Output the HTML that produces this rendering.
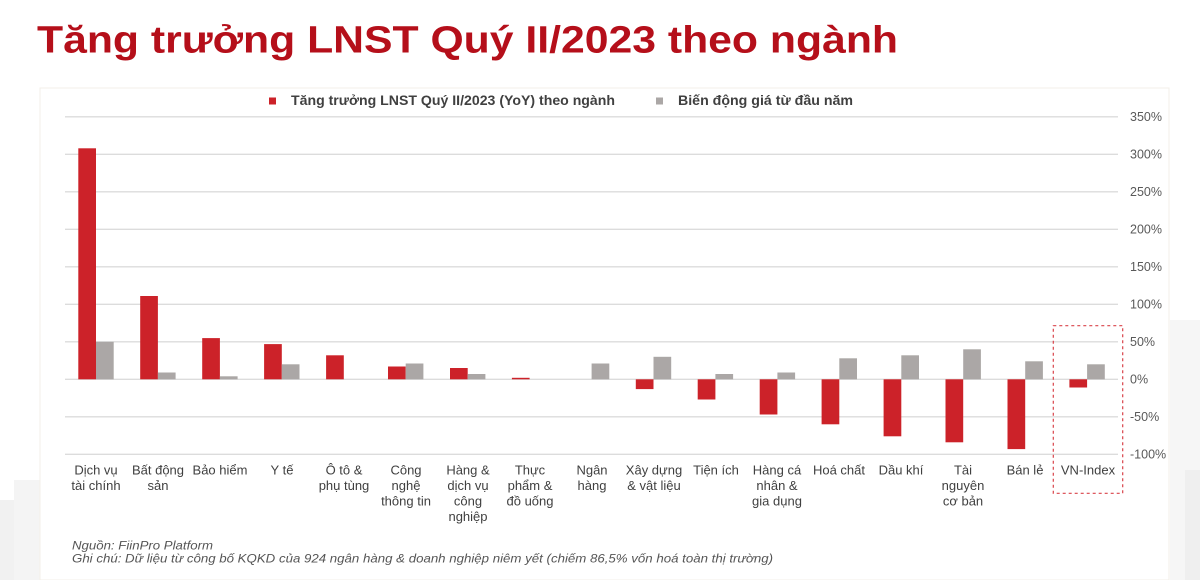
<!DOCTYPE html>
<html><head><meta charset="utf-8"><style>
html,body{margin:0;padding:0;background:#fff;}
svg{display:block;}
text{font-family:"Liberation Sans",sans-serif;}
</style></head><body>
<svg width="1200" height="580" viewBox="0 0 1200 580" xmlns="http://www.w3.org/2000/svg">
<rect x="0" y="0" width="1200" height="580" fill="#fff"/>
<!-- faint background city -->
<g fill="#f1f1f1">
<rect x="0" y="500" width="14" height="80"/>
<rect x="14" y="480" width="26" height="100" fill="#f4f4f4"/>
<rect x="1170" y="320" width="30" height="260" fill="#f6f6f6"/>
<rect x="1185" y="470" width="15" height="110" fill="#efefef"/>
</g>
<rect x="40" y="88" width="1129" height="492" fill="#fff" stroke="#f3efe8" stroke-width="1"/>
<!-- title -->
<text x="37" y="52.5" font-size="38" font-weight="bold" fill="#B50F1A" textLength="861" lengthAdjust="spacingAndGlyphs">Tăng trưởng LNST Quý II/2023 theo ngành</text>
<!-- legend -->
<rect x="269" y="97.5" width="7" height="7" fill="#CC2229"/>
<text x="291" y="105" font-size="13.5" font-weight="bold" fill="#404040" textLength="324" lengthAdjust="spacingAndGlyphs">Tăng trưởng LNST Quý II/2023 (YoY) theo ngành</text>
<rect x="656" y="97.5" width="7" height="7" fill="#ABA7A6"/>
<text x="678" y="105" font-size="13.5" font-weight="bold" fill="#404040" textLength="175" lengthAdjust="spacingAndGlyphs">Biến động giá từ đầu năm</text>
<!-- gridlines -->
<g stroke="#dcdcdc" stroke-width="1.3">
<line x1="65" x2="1118" y1="116.8" y2="116.8"/>
<line x1="65" x2="1118" y1="154.3" y2="154.3"/>
<line x1="65" x2="1118" y1="191.8" y2="191.8"/>
<line x1="65" x2="1118" y1="229.3" y2="229.3"/>
<line x1="65" x2="1118" y1="266.8" y2="266.8"/>
<line x1="65" x2="1118" y1="304.3" y2="304.3"/>
<line x1="65" x2="1118" y1="341.8" y2="341.8"/>
<line x1="65" x2="1118" y1="379.3" y2="379.3"/>
<line x1="65" x2="1118" y1="416.8" y2="416.8"/>
<line x1="65" x2="1118" y1="454.3" y2="454.3"/>
</g>
<!-- y labels -->
<g font-size="12.5" fill="#595959">
<text x="1130" y="121">350%</text>
<text x="1130" y="158.5">300%</text>
<text x="1130" y="196">250%</text>
<text x="1130" y="233.5">200%</text>
<text x="1130" y="271">150%</text>
<text x="1130" y="308.5">100%</text>
<text x="1130" y="346">50%</text>
<text x="1130" y="383.5">0%</text>
<text x="1130" y="421">-50%</text>
<text x="1130" y="458.5">-100%</text>
</g>
<!-- bars -->
<g fill="#CC2229">
<rect x="78.3" y="148.3" width="17.7" height="231"/>
<rect x="140.2" y="296" width="17.7" height="83.3"/>
<rect x="202.2" y="338.1" width="17.7" height="41.2"/>
<rect x="264.1" y="344.1" width="17.7" height="35.2"/>
<rect x="326.1" y="355.3" width="17.7" height="24"/>
<rect x="388" y="366.5" width="17.7" height="12.8"/>
<rect x="450" y="368" width="17.7" height="11.3"/>
<rect x="511.9" y="377.8" width="17.7" height="1.5"/>
<rect x="635.8" y="379.3" width="17.7" height="9.8"/>
<rect x="697.7" y="379.3" width="17.7" height="20.2"/>
<rect x="759.7" y="379.3" width="17.7" height="35.2"/>
<rect x="821.6" y="379.3" width="17.7" height="45"/>
<rect x="883.6" y="379.3" width="17.7" height="57"/>
<rect x="945.5" y="379.3" width="17.7" height="63"/>
<rect x="1007.5" y="379.3" width="17.7" height="69.8"/>
<rect x="1069.4" y="379.3" width="17.7" height="8.2"/>
</g>
<g fill="#ABA7A6">
<rect x="96" y="341.8" width="17.7" height="37.5"/>
<rect x="157.9" y="372.5" width="17.7" height="6.8"/>
<rect x="219.9" y="376.3" width="17.7" height="3"/>
<rect x="281.8" y="364.3" width="17.7" height="15"/>
<rect x="405.7" y="363.5" width="17.7" height="15.8"/>
<rect x="467.7" y="374" width="17.7" height="5.3"/>
<rect x="591.6" y="363.5" width="17.7" height="15.8"/>
<rect x="653.5" y="356.8" width="17.7" height="22.5"/>
<rect x="715.4" y="374" width="17.7" height="5.3"/>
<rect x="777.4" y="372.5" width="17.7" height="6.8"/>
<rect x="839.3" y="358.3" width="17.7" height="21"/>
<rect x="901.3" y="355.3" width="17.7" height="24"/>
<rect x="963.2" y="349.3" width="17.7" height="30"/>
<rect x="1025.2" y="361.3" width="17.7" height="18"/>
<rect x="1087.1" y="364.3" width="17.7" height="15"/>
</g>
<!-- dashed box -->
<rect x="1053.3" y="325.7" width="69.4" height="167.6" fill="none" stroke="#D9434A" stroke-width="1.2" stroke-dasharray="3,3"/>
<!-- x labels -->
<g font-size="13" fill="#404040" text-anchor="middle">
<text x="96" y="474.5">Dịch vụ</text><text x="96" y="490">tài chính</text>
<text x="158" y="474.5">Bất động</text><text x="158" y="490">sản</text>
<text x="220" y="474.5">Bảo hiểm</text>
<text x="282" y="474.5">Y tế</text>
<text x="344" y="474.5">Ô tô &amp;</text><text x="344" y="490">phụ tùng</text>
<text x="406" y="474.5">Công</text><text x="406" y="490">nghệ</text><text x="406" y="505.5">thông tin</text>
<text x="468" y="474.5">Hàng &amp;</text><text x="468" y="490">dịch vụ</text><text x="468" y="505.5">công</text><text x="468" y="521">nghiệp</text>
<text x="530" y="474.5">Thực</text><text x="530" y="490">phẩm &amp;</text><text x="530" y="505.5">đồ uống</text>
<text x="592" y="474.5">Ngân</text><text x="592" y="490">hàng</text>
<text x="654" y="474.5">Xây dựng</text><text x="654" y="490">&amp; vật liệu</text>
<text x="716" y="474.5">Tiện ích</text>
<text x="777" y="474.5">Hàng cá</text><text x="777" y="490">nhân &amp;</text><text x="777" y="505.5">gia dụng</text>
<text x="839" y="474.5">Hoá chất</text>
<text x="901" y="474.5">Dầu khí</text>
<text x="963" y="474.5">Tài</text><text x="963" y="490">nguyên</text><text x="963" y="505.5">cơ bản</text>
<text x="1025" y="474.5">Bán lẻ</text>
<text x="1088" y="474.5">VN-Index</text>
</g>
<!-- footnote -->
<g font-size="12" font-style="italic" fill="#555555">
<text x="72" y="549.5" textLength="141" lengthAdjust="spacingAndGlyphs">Nguồn: FiinPro Platform</text>
<text x="72" y="562.5" textLength="701" lengthAdjust="spacingAndGlyphs">Ghi chú: Dữ liệu từ công bố KQKD của 924 ngân hàng &amp; doanh nghiệp niêm yết (chiếm 86,5% vốn hoá toàn thị trường)</text>
</g>
</svg>
</body></html>
